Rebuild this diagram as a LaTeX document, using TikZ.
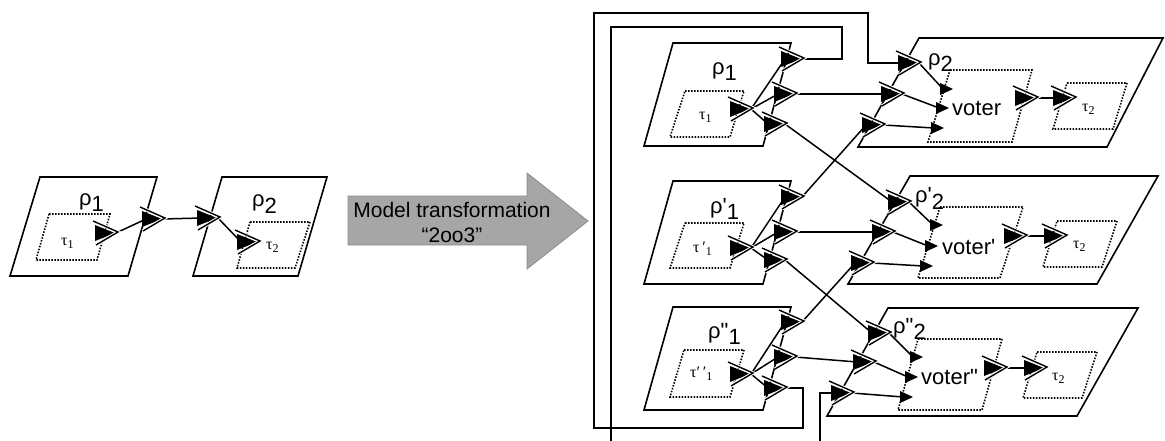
\documentclass[tikz,border=0pt]{standalone}
\usepackage{fontspec}
\setmainfont{Liberation Sans}
\newfontfamily\lab{Liberation Sans}
\newfontfamily\ser{Liberation Serif}
\usepackage{tikz}
\usetikzlibrary{positioning,backgrounds}
\newcommand{\lo}[1]{\raisebox{-6pt}{#1}}
\newcommand{\tlo}[1]{\raisebox{-3pt}{\fontsize{12}{12}\selectfont #1}}

\begin{document}
\begin{tikzpicture}[x=1pt,y=-1pt,
		plgram/.style={line width=1.6pt, line join=miter},
		dotbox/.style={line width=1.6pt, dash pattern=on 1.5pt off 1.5pt},
		wire/.style={line width=1.5pt},
		garrow/.style={fill=black!35, draw=black!45, line width=0.8pt},
		rholab/.style={anchor=base west, inner sep=0pt, font=\lab\fontsize{22}{22}\selectfont},
		taulab/.style={anchor=base west, inner sep=0pt, font=\ser\fontsize{16}{16}\selectfont},
		port/.pic={
			\fill (0,-8) -- (20,0) -- (0,8) -- cycle;
			\draw[white, line width=3.4pt] (-2,-12) -- (23,-1) -- (1,12);
			\draw[line width=1.4pt] (-2,-12) -- (23,-1) -- (1,12);
			\coordinate (-w) at (4,0);
			\coordinate (-e) at (21,0);
		},
		inport/.pic={
			\fill (0,-6) -- (13,0) -- (0,6) -- cycle;
			\coordinate (-w) at (3,0);
		},
		]
		\useasboundingbox (0,0) rectangle (1165,441);
		
		%Original model
		\draw[plgram] (40,177) -- (157,177) -- (128,276) -- (10,276) -- cycle;
		\draw[plgram] (222,177) -- (327,177) -- (298,276) -- (193,276) -- cycle;
		\draw[dotbox] (49,214) -- (110,214) -- (97,260) -- (36,260) -- cycle;
		\draw[dotbox] (250,222) -- (310,222) -- (295,268) -- (237,268) -- cycle;
		\node[rholab] (lr1) at (79,205) {ρ\lo{1}};
		\node[rholab] (lr2) at (252,207) {ρ\lo{2}};
		\node[taulab] (lt1) at (61,245) {τ\tlo{1}};
		\node[taulab] (lt2) at (266,249) {τ\tlo{2}};
		\pic (l1) at (95,233) {port};
		\pic (l2) at (142,219) {port};
		\pic (l3) at (197,218) {port};
		\pic (l4) at (237,242) {port};
		
		%Transformation arrow
		\draw[garrow] (348,196) -- (527,196) -- (527,173) -- (588,221) -- (527,269) -- (527,245) -- (348,245) -- cycle;
		\node[font=\fontsize{21}{25}\selectfont, align=center] (mt) at (452,222) {Model transformation\\“2oo3”};
		
		%Replicas
		\draw[plgram] (673,43) -- (791,43) -- (763,146) -- (644,146) -- cycle;
		\draw[plgram] (673,181) -- (791,181) -- (763,284) -- (644,284) -- cycle;
		\draw[plgram] (673,307) -- (791,307) -- (763,410) -- (644,410) -- cycle;
		\draw[dotbox] (685,91) -- (744,91) -- (730,137) -- (670,137) -- cycle;
		\draw[dotbox] (685,223) -- (744,223) -- (730,268) -- (670,268) -- cycle;
		\draw[dotbox] (684,350) -- (744,350) -- (730,397) -- (670,397) -- cycle;
		\node[rholab] (r1) at (712,75) {ρ\lo{1}};
		\node[rholab] (r1p) at (710,213) {ρ'\lo{1}};
		\node[rholab] (r1pp) at (708,338) {ρ"\lo{1}};
		\node[taulab] (t1) at (699,120) {τ\tlo{1}};
		\node[taulab] (t1p) at (693,252) {τ\,′\tlo{1}};
		\node[taulab] (t1pp) at (690,377) {τ′\,′\tlo{1}};
		\pic (p1i) at (730,109) {port};
		\pic (p1a) at (781,59) {port};
		\pic (p1b) at (774,94) {port};
		\pic (p1c) at (764,124) {port};
		\pic (p2i) at (730,248) {port};
		\pic (p2a) at (781,197) {port};
		\pic (p2b) at (774,232) {port};
		\pic (p2c) at (764,260) {port};
		\pic (p3i) at (730,374) {port};
		\pic (p3a) at (781,322) {port};
		\pic (p3b) at (774,357) {port};
		\pic (p3c) at (764,388) {port};
		
		%Voters
		\draw[plgram] (919,38) -- (1163,38) -- (1107,147) -- (858,147) -- cycle;
		\draw[plgram] (910,176) -- (1158,176) -- (1097,284) -- (848,284) -- cycle;
		\draw[plgram] (888,308) -- (1138,308) -- (1077,416) -- (827,416) -- cycle;
		\draw[dotbox] (950,70) -- (1032,70) -- (1012,142) -- (928,142) -- cycle;
		\draw[dotbox] (940,207) -- (1023,207) -- (1000,278) -- (918,278) -- cycle;
		\draw[dotbox] (918,339) -- (1002,339) -- (982,410) -- (898,410) -- cycle;
		\draw[dotbox] (1067,83) -- (1127,83) -- (1113,129) -- (1053,129) -- cycle;
		\draw[dotbox] (1057,221) -- (1117,221) -- (1102,267) -- (1043,267) -- cycle;
		\draw[dotbox] (1037,352) -- (1097,352) -- (1082,398) -- (1023,398) -- cycle;
		\node[rholab] (r2) at (928,66) {ρ\lo{2}};
		\node[rholab] (r2p) at (915,203) {ρ'\lo{2}};
		\node[rholab] (r2pp) at (893,333) {ρ"\lo{2}};
		\node[rholab] (vt1) at (952,116) {voter};
		\node[rholab] (vt2) at (942,254) {voter'};
		\node[rholab] (vt3) at (921,384) {voter"};
		\node[taulab] (t2) at (1082,112) {τ\tlo{2}};
		\node[taulab] (t2p) at (1073,248) {τ\tlo{2}};
		\node[taulab] (t2pp) at (1052,380) {τ\tlo{2}};
		\pic (q1a) at (898,63) {port};
		\pic (q1b) at (881,94) {port};
		\pic (q1c) at (862,125) {port};
		\pic (q2a) at (888,202) {port};
		\pic (q2b) at (872,232) {port};
		\pic (q2c) at (851,263) {port};
		\pic (q3a) at (868,333) {port};
		\pic (q3b) at (853,362) {port};
		\pic (q3c) at (831,393) {port};
		\pic (v1a) at (940,89) {inport};
		\pic (v1b) at (936,108) {inport};
		\pic (v1c) at (931,128) {inport};
		\pic (v2a) at (930,225) {inport};
		\pic (v2b) at (925,246) {inport};
		\pic (v2c) at (920,266) {inport};
		\pic (v3a) at (910,357) {inport};
		\pic (v3b) at (905,377) {inport};
		\pic (v3c) at (900,397) {inport};
		\pic (o1) at (1015,98) {port};
		\pic (o2) at (1004,236) {port};
		\pic (o3) at (984,368) {port};
		\pic (g1) at (1053,98) {port};
		\pic (g2) at (1044,236) {port};
		\pic (g3) at (1024,368) {port};
		\coordinate (ex1) at (611,441);
		\coordinate (ex2) at (820,441);
		
		%Lines
		\begin{scope}[on background layer]
		\draw[wire] (l1-e) -- (l2-w);
		\draw[wire] (l2-e) -- (l3-w);
		\draw[wire] (l3-e) -- (l4-w);
		\draw[wire] (p1i-e) -- (p1a-w);
		\draw[wire] (p1i-e) -- (p1b-w);
		\draw[wire] (p1i-e) -- (p1c-w);
		\draw[wire] (p2i-e) -- (p2a-w);
		\draw[wire] (p2i-e) -- (p2b-w);
		\draw[wire] (p2i-e) -- (p2c-w);
		\draw[wire] (p3i-e) -- (p3a-w);
		\draw[wire] (p3i-e) -- (p3b-w);
		\draw[wire] (p3i-e) -- (p3c-w);
		\draw[wire] (p1b-e) -- (q1b-w);
		\draw[wire] (p1c-e) -- (q2a-w);
		\draw[wire] (p2a-e) -- (q1c-w);
		\draw[wire] (p2b-e) -- (q2b-w);
		\draw[wire] (p2c-e) -- (q3a-w);
		\draw[wire] (p3a-e) -- (q2c-w);
		\draw[wire] (p3b-e) -- (q3b-w);
		\draw[wire] (p1a-e) -| (842,27) -| (ex1);
		\draw[wire] (p3c-e) -| (803,428) -| (594,13) -| (868,63) -- (q1a-w);
		\draw[wire] (ex2) |- (q3c-w);
		\draw[wire] (q1a-e) -- (v1a-w);
		\draw[wire] (q1b-e) -- (v1b-w);
		\draw[wire] (q1c-e) -- (v1c-w);
		\draw[wire] (q2a-e) -- (v2a-w);
		\draw[wire] (q2b-e) -- (v2b-w);
		\draw[wire] (q2c-e) -- (v2c-w);
		\draw[wire] (q3a-e) -- (v3a-w);
		\draw[wire] (q3b-e) -- (v3b-w);
		\draw[wire] (q3c-e) -- (v3c-w);
		\draw[wire] (o1-e) -- (g1-w);
		\draw[wire] (o2-e) -- (g2-w);
		\draw[wire] (o3-e) -- (g3-w);
		\end{scope}
\end{tikzpicture}
\end{document}
